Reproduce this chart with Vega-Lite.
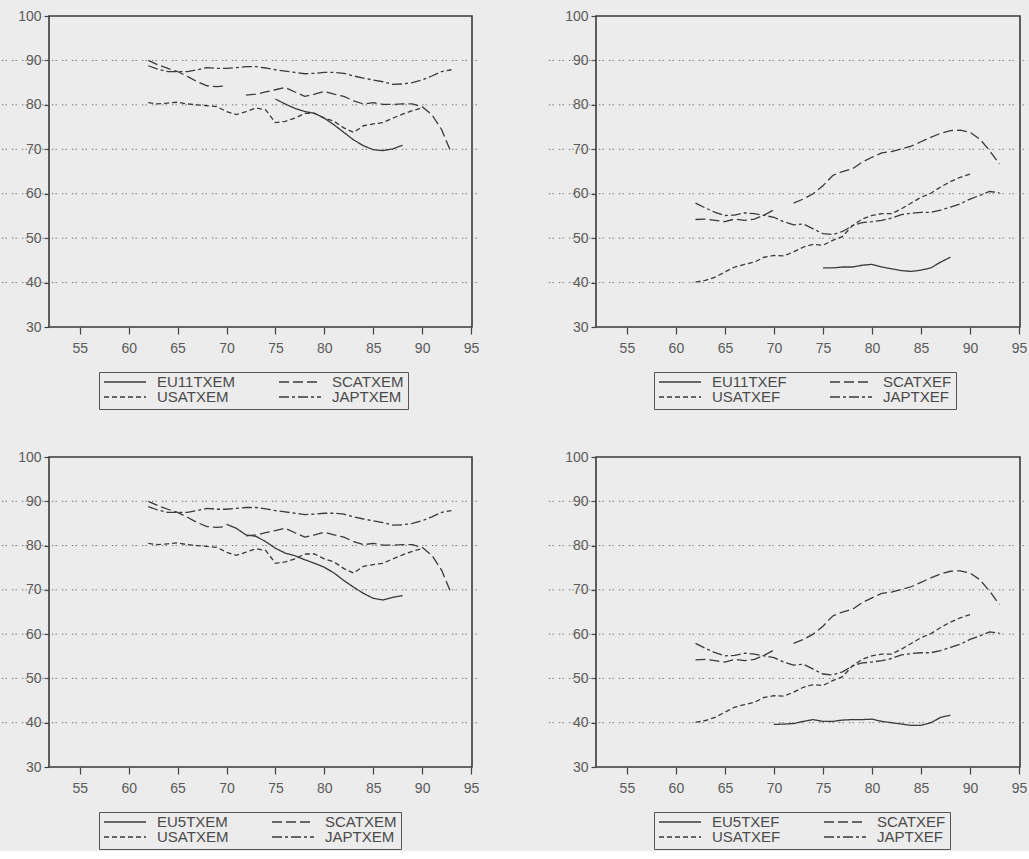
{
  "$schema": "https://vega.github.io/schema/vega-lite/v6.json",
  "background": "#ececec",
  "padding": {"left": 0, "top": 8, "right": 0, "bottom": 0},
  "datasets": {
    "grid": [{"v": 40}, {"v": 50}, {"v": 60}, {"v": 70}, {"v": 80}, {"v": 90}],
    "em": [
      {"s": "SCATXEM", "year": 62, "v": 90.0}, {"s": "SCATXEM", "year": 63, "v": 89.0}, {"s": "SCATXEM", "year": 64, "v": 88.2},
      {"s": "SCATXEM", "year": 65, "v": 87.5}, {"s": "SCATXEM", "year": 66, "v": 86.4}, {"s": "SCATXEM", "year": 67, "v": 85.2},
      {"s": "SCATXEM", "year": 68, "v": 84.3}, {"s": "SCATXEM", "year": 69, "v": 84.1}, {"s": "SCATXEM", "year": 70, "v": 84.3},
      {"s": "SCATXEM", "year": 71, "v": null}, {"s": "SCATXEM", "year": 72, "v": 82.2}, {"s": "SCATXEM", "year": 73, "v": 82.4},
      {"s": "SCATXEM", "year": 74, "v": 82.9}, {"s": "SCATXEM", "year": 75, "v": 83.4}, {"s": "SCATXEM", "year": 76, "v": 83.9},
      {"s": "SCATXEM", "year": 77, "v": 82.9}, {"s": "SCATXEM", "year": 78, "v": 81.9}, {"s": "SCATXEM", "year": 79, "v": 82.4},
      {"s": "SCATXEM", "year": 80, "v": 83.0}, {"s": "SCATXEM", "year": 81, "v": 82.4}, {"s": "SCATXEM", "year": 82, "v": 81.9},
      {"s": "SCATXEM", "year": 83, "v": 80.9}, {"s": "SCATXEM", "year": 84, "v": 80.2}, {"s": "SCATXEM", "year": 85, "v": 80.5},
      {"s": "SCATXEM", "year": 86, "v": 80.1}, {"s": "SCATXEM", "year": 87, "v": 80.1}, {"s": "SCATXEM", "year": 88, "v": 80.2},
      {"s": "SCATXEM", "year": 89, "v": 80.2}, {"s": "SCATXEM", "year": 90, "v": 79.6}, {"s": "SCATXEM", "year": 91, "v": 77.8},
      {"s": "SCATXEM", "year": 92, "v": 74.4}, {"s": "SCATXEM", "year": 93, "v": 69.1},
      {"s": "USATXEM", "year": 62, "v": 80.5}, {"s": "USATXEM", "year": 63, "v": 80.2}, {"s": "USATXEM", "year": 64, "v": 80.4},
      {"s": "USATXEM", "year": 65, "v": 80.6}, {"s": "USATXEM", "year": 66, "v": 80.2}, {"s": "USATXEM", "year": 67, "v": 80.0},
      {"s": "USATXEM", "year": 68, "v": 79.8}, {"s": "USATXEM", "year": 69, "v": 79.6}, {"s": "USATXEM", "year": 70, "v": 78.5},
      {"s": "USATXEM", "year": 71, "v": 77.8}, {"s": "USATXEM", "year": 72, "v": 78.5}, {"s": "USATXEM", "year": 73, "v": 79.3},
      {"s": "USATXEM", "year": 74, "v": 78.9}, {"s": "USATXEM", "year": 75, "v": 76.0}, {"s": "USATXEM", "year": 76, "v": 76.3},
      {"s": "USATXEM", "year": 77, "v": 77.0}, {"s": "USATXEM", "year": 78, "v": 78.1}, {"s": "USATXEM", "year": 79, "v": 78.1},
      {"s": "USATXEM", "year": 80, "v": 77.0}, {"s": "USATXEM", "year": 81, "v": 76.3}, {"s": "USATXEM", "year": 82, "v": 74.8},
      {"s": "USATXEM", "year": 83, "v": 73.8}, {"s": "USATXEM", "year": 84, "v": 75.3}, {"s": "USATXEM", "year": 85, "v": 75.7},
      {"s": "USATXEM", "year": 86, "v": 76.0}, {"s": "USATXEM", "year": 87, "v": 77.0}, {"s": "USATXEM", "year": 88, "v": 77.9},
      {"s": "USATXEM", "year": 89, "v": 78.7}, {"s": "USATXEM", "year": 90, "v": 79.3},
      {"s": "JAPTXEM", "year": 62, "v": 88.8}, {"s": "JAPTXEM", "year": 63, "v": 88.0}, {"s": "JAPTXEM", "year": 64, "v": 87.5},
      {"s": "JAPTXEM", "year": 65, "v": 87.5}, {"s": "JAPTXEM", "year": 66, "v": 87.5}, {"s": "JAPTXEM", "year": 67, "v": 87.9},
      {"s": "JAPTXEM", "year": 68, "v": 88.4}, {"s": "JAPTXEM", "year": 69, "v": 88.2}, {"s": "JAPTXEM", "year": 70, "v": 88.2},
      {"s": "JAPTXEM", "year": 71, "v": 88.4}, {"s": "JAPTXEM", "year": 72, "v": 88.6}, {"s": "JAPTXEM", "year": 73, "v": 88.6},
      {"s": "JAPTXEM", "year": 74, "v": 88.3}, {"s": "JAPTXEM", "year": 75, "v": 87.9}, {"s": "JAPTXEM", "year": 76, "v": 87.6},
      {"s": "JAPTXEM", "year": 77, "v": 87.3}, {"s": "JAPTXEM", "year": 78, "v": 87.0}, {"s": "JAPTXEM", "year": 79, "v": 87.1},
      {"s": "JAPTXEM", "year": 80, "v": 87.3}, {"s": "JAPTXEM", "year": 81, "v": 87.3}, {"s": "JAPTXEM", "year": 82, "v": 87.1},
      {"s": "JAPTXEM", "year": 83, "v": 86.5}, {"s": "JAPTXEM", "year": 84, "v": 86.0}, {"s": "JAPTXEM", "year": 85, "v": 85.6},
      {"s": "JAPTXEM", "year": 86, "v": 85.2}, {"s": "JAPTXEM", "year": 87, "v": 84.6}, {"s": "JAPTXEM", "year": 88, "v": 84.7},
      {"s": "JAPTXEM", "year": 89, "v": 85.0}, {"s": "JAPTXEM", "year": 90, "v": 85.6}, {"s": "JAPTXEM", "year": 91, "v": 86.5},
      {"s": "JAPTXEM", "year": 92, "v": 87.5}, {"s": "JAPTXEM", "year": 93, "v": 87.9}
    ],
    "eu11em": [
      {"s": "EU11TXEM", "year": 75, "v": 81.3}, {"s": "EU11TXEM", "year": 76, "v": 80.2}, {"s": "EU11TXEM", "year": 77, "v": 79.2},
      {"s": "EU11TXEM", "year": 78, "v": 78.5}, {"s": "EU11TXEM", "year": 79, "v": 78.1}, {"s": "EU11TXEM", "year": 80, "v": 77.0},
      {"s": "EU11TXEM", "year": 81, "v": 75.5}, {"s": "EU11TXEM", "year": 82, "v": 73.8}, {"s": "EU11TXEM", "year": 83, "v": 72.1},
      {"s": "EU11TXEM", "year": 84, "v": 70.8}, {"s": "EU11TXEM", "year": 85, "v": 69.9}, {"s": "EU11TXEM", "year": 86, "v": 69.7},
      {"s": "EU11TXEM", "year": 87, "v": 70.1}, {"s": "EU11TXEM", "year": 88, "v": 70.9}
    ],
    "eu5em": [
      {"s": "EU5TXEM", "year": 70, "v": 84.8}, {"s": "EU5TXEM", "year": 71, "v": 83.9}, {"s": "EU5TXEM", "year": 72, "v": 82.4},
      {"s": "EU5TXEM", "year": 73, "v": 82.1}, {"s": "EU5TXEM", "year": 74, "v": 80.9}, {"s": "EU5TXEM", "year": 75, "v": 79.4},
      {"s": "EU5TXEM", "year": 76, "v": 78.3}, {"s": "EU5TXEM", "year": 77, "v": 77.7}, {"s": "EU5TXEM", "year": 78, "v": 76.8},
      {"s": "EU5TXEM", "year": 79, "v": 76.0}, {"s": "EU5TXEM", "year": 80, "v": 75.1}, {"s": "EU5TXEM", "year": 81, "v": 73.8},
      {"s": "EU5TXEM", "year": 82, "v": 72.1}, {"s": "EU5TXEM", "year": 83, "v": 70.6}, {"s": "EU5TXEM", "year": 84, "v": 69.2},
      {"s": "EU5TXEM", "year": 85, "v": 68.1}, {"s": "EU5TXEM", "year": 86, "v": 67.7}, {"s": "EU5TXEM", "year": 87, "v": 68.3},
      {"s": "EU5TXEM", "year": 88, "v": 68.7}
    ],
    "ef": [
      {"s": "SCATXEF", "year": 62, "v": 54.2}, {"s": "SCATXEF", "year": 63, "v": 54.3}, {"s": "SCATXEF", "year": 64, "v": 54.0},
      {"s": "SCATXEF", "year": 65, "v": 53.7}, {"s": "SCATXEF", "year": 66, "v": 54.3}, {"s": "SCATXEF", "year": 67, "v": 54.0},
      {"s": "SCATXEF", "year": 68, "v": 54.3}, {"s": "SCATXEF", "year": 69, "v": 55.2}, {"s": "SCATXEF", "year": 70, "v": 56.4},
      {"s": "SCATXEF", "year": 71, "v": null}, {"s": "SCATXEF", "year": 72, "v": 57.9}, {"s": "SCATXEF", "year": 73, "v": 58.8},
      {"s": "SCATXEF", "year": 74, "v": 60.0}, {"s": "SCATXEF", "year": 75, "v": 61.8}, {"s": "SCATXEF", "year": 76, "v": 64.1},
      {"s": "SCATXEF", "year": 77, "v": 65.0}, {"s": "SCATXEF", "year": 78, "v": 65.6}, {"s": "SCATXEF", "year": 79, "v": 67.1},
      {"s": "SCATXEF", "year": 80, "v": 68.2}, {"s": "SCATXEF", "year": 81, "v": 69.2}, {"s": "SCATXEF", "year": 82, "v": 69.5},
      {"s": "SCATXEF", "year": 83, "v": 70.1}, {"s": "SCATXEF", "year": 84, "v": 70.7}, {"s": "SCATXEF", "year": 85, "v": 71.7},
      {"s": "SCATXEF", "year": 86, "v": 72.7}, {"s": "SCATXEF", "year": 87, "v": 73.6}, {"s": "SCATXEF", "year": 88, "v": 74.2},
      {"s": "SCATXEF", "year": 89, "v": 74.3}, {"s": "SCATXEF", "year": 90, "v": 73.8}, {"s": "SCATXEF", "year": 91, "v": 72.3},
      {"s": "SCATXEF", "year": 92, "v": 69.7}, {"s": "SCATXEF", "year": 93, "v": 66.7},
      {"s": "USATXEF", "year": 62, "v": 40.1}, {"s": "USATXEF", "year": 63, "v": 40.5}, {"s": "USATXEF", "year": 64, "v": 41.2},
      {"s": "USATXEF", "year": 65, "v": 42.4}, {"s": "USATXEF", "year": 66, "v": 43.5}, {"s": "USATXEF", "year": 67, "v": 44.1},
      {"s": "USATXEF", "year": 68, "v": 44.6}, {"s": "USATXEF", "year": 69, "v": 45.7}, {"s": "USATXEF", "year": 70, "v": 46.1},
      {"s": "USATXEF", "year": 71, "v": 46.0}, {"s": "USATXEF", "year": 72, "v": 46.9}, {"s": "USATXEF", "year": 73, "v": 48.0},
      {"s": "USATXEF", "year": 74, "v": 48.6}, {"s": "USATXEF", "year": 75, "v": 48.4}, {"s": "USATXEF", "year": 76, "v": 49.5},
      {"s": "USATXEF", "year": 77, "v": 50.4}, {"s": "USATXEF", "year": 78, "v": 52.8}, {"s": "USATXEF", "year": 79, "v": 54.3},
      {"s": "USATXEF", "year": 80, "v": 55.1}, {"s": "USATXEF", "year": 81, "v": 55.5}, {"s": "USATXEF", "year": 82, "v": 55.5},
      {"s": "USATXEF", "year": 83, "v": 56.6}, {"s": "USATXEF", "year": 84, "v": 57.9}, {"s": "USATXEF", "year": 85, "v": 59.2},
      {"s": "USATXEF", "year": 86, "v": 60.1}, {"s": "USATXEF", "year": 87, "v": 61.5}, {"s": "USATXEF", "year": 88, "v": 62.7},
      {"s": "USATXEF", "year": 89, "v": 63.7}, {"s": "USATXEF", "year": 90, "v": 64.4},
      {"s": "JAPTXEF", "year": 62, "v": 57.9}, {"s": "JAPTXEF", "year": 63, "v": 56.8}, {"s": "JAPTXEF", "year": 64, "v": 55.8},
      {"s": "JAPTXEF", "year": 65, "v": 55.1}, {"s": "JAPTXEF", "year": 66, "v": 55.2}, {"s": "JAPTXEF", "year": 67, "v": 55.7},
      {"s": "JAPTXEF", "year": 68, "v": 55.5}, {"s": "JAPTXEF", "year": 69, "v": 55.1}, {"s": "JAPTXEF", "year": 70, "v": 54.7},
      {"s": "JAPTXEF", "year": 71, "v": 53.7}, {"s": "JAPTXEF", "year": 72, "v": 53.0}, {"s": "JAPTXEF", "year": 73, "v": 53.2},
      {"s": "JAPTXEF", "year": 74, "v": 52.1}, {"s": "JAPTXEF", "year": 75, "v": 51.0}, {"s": "JAPTXEF", "year": 76, "v": 50.8},
      {"s": "JAPTXEF", "year": 77, "v": 51.5}, {"s": "JAPTXEF", "year": 78, "v": 52.8}, {"s": "JAPTXEF", "year": 79, "v": 53.5},
      {"s": "JAPTXEF", "year": 80, "v": 53.7}, {"s": "JAPTXEF", "year": 81, "v": 54.0}, {"s": "JAPTXEF", "year": 82, "v": 54.5},
      {"s": "JAPTXEF", "year": 83, "v": 55.3}, {"s": "JAPTXEF", "year": 84, "v": 55.6}, {"s": "JAPTXEF", "year": 85, "v": 55.8},
      {"s": "JAPTXEF", "year": 86, "v": 55.8}, {"s": "JAPTXEF", "year": 87, "v": 56.3}, {"s": "JAPTXEF", "year": 88, "v": 57.0},
      {"s": "JAPTXEF", "year": 89, "v": 57.7}, {"s": "JAPTXEF", "year": 90, "v": 58.8}, {"s": "JAPTXEF", "year": 91, "v": 59.6},
      {"s": "JAPTXEF", "year": 92, "v": 60.5}, {"s": "JAPTXEF", "year": 93, "v": 60.2}
    ],
    "eu11ef": [
      {"s": "EU11TXEF", "year": 75, "v": 43.3}, {"s": "EU11TXEF", "year": 76, "v": 43.3}, {"s": "EU11TXEF", "year": 77, "v": 43.5},
      {"s": "EU11TXEF", "year": 78, "v": 43.5}, {"s": "EU11TXEF", "year": 79, "v": 43.9}, {"s": "EU11TXEF", "year": 80, "v": 44.1},
      {"s": "EU11TXEF", "year": 81, "v": 43.5}, {"s": "EU11TXEF", "year": 82, "v": 43.1}, {"s": "EU11TXEF", "year": 83, "v": 42.7},
      {"s": "EU11TXEF", "year": 84, "v": 42.5}, {"s": "EU11TXEF", "year": 85, "v": 42.8}, {"s": "EU11TXEF", "year": 86, "v": 43.3},
      {"s": "EU11TXEF", "year": 87, "v": 44.6}, {"s": "EU11TXEF", "year": 88, "v": 45.7}
    ],
    "eu5ef": [
      {"s": "EU5TXEF", "year": 70, "v": 39.6}, {"s": "EU5TXEF", "year": 71, "v": 39.7}, {"s": "EU5TXEF", "year": 72, "v": 39.8},
      {"s": "EU5TXEF", "year": 73, "v": 40.3}, {"s": "EU5TXEF", "year": 74, "v": 40.7}, {"s": "EU5TXEF", "year": 75, "v": 40.3},
      {"s": "EU5TXEF", "year": 76, "v": 40.3}, {"s": "EU5TXEF", "year": 77, "v": 40.6}, {"s": "EU5TXEF", "year": 78, "v": 40.7},
      {"s": "EU5TXEF", "year": 79, "v": 40.7}, {"s": "EU5TXEF", "year": 80, "v": 40.8}, {"s": "EU5TXEF", "year": 81, "v": 40.3},
      {"s": "EU5TXEF", "year": 82, "v": 40.0}, {"s": "EU5TXEF", "year": 83, "v": 39.7}, {"s": "EU5TXEF", "year": 84, "v": 39.4},
      {"s": "EU5TXEF", "year": 85, "v": 39.4}, {"s": "EU5TXEF", "year": 86, "v": 40.0}, {"s": "EU5TXEF", "year": 87, "v": 41.2},
      {"s": "EU5TXEF", "year": 88, "v": 41.7}
    ]
  },
  "config": {
    "view": {"stroke": "#3a3a3a", "strokeWidth": 1.6},
    "font": "Liberation Sans",
    "axis": {
      "domain": false,
      "grid": false,
      "title": null,
      "tickColor": "#444",
      "tickWidth": 1.2,
      "labelColor": "#5a5a5a",
      "labelFont": "Liberation Sans",
      "labelFontSize": 14
    },
    "axisX": {
      "values": [52,53,54,55,56,57,58,59,60,61,62,63,64,65,66,67,68,69,70,71,72,73,74,75,76,77,78,79,80,81,82,83,84,85,86,87,88,89,90,91,92,93,94,95],
      "labelExpr": "datum.value % 5 === 0 ? datum.label : ''",
      "tickSize": {"condition": {"test": "datum.value % 5 === 0", "value": 7}, "value": 4},
      "labelPadding": 7,
      "labelFlush": false,
      "labelOverlap": false
    },
    "axisY": {
      "values": [30, 40, 50, 60, 70, 80, 90, 100],
      "tickSize": 5,
      "labelPadding": 3
    },
    "legend": {
      "orient": "none",
      "title": null,
      "columns": 2,
      "symbolType": "stroke",
      "symbolSize": 1764,
      "symbolStrokeWidth": 1.3,
      "symbolStrokeColor": "#3a3a3a",
      "labelFont": "Liberation Sans",
      "labelFontSize": 15,
      "labelColor": "#4a4a4a",
      "labelOffset": 10,
      "clipHeight": 12,
      "strokeColor": "#555",
      "padding": 4,
      "rowPadding": 0,
      "columnPadding": 42
    },
    "line": {"stroke": "#3a3a3a", "strokeWidth": 1.3}
  },
  "spacing": 38,
  "resolve": {"scale": {"strokeDash": "independent"}, "legend": {"strokeDash": "independent"}},
  "vconcat": [
    {
      "spacing": 63,
      "resolve": {"scale": {"strokeDash": "independent"}, "legend": {"strokeDash": "independent"}},
      "hconcat": [
        {
          "width": 423, "height": 311,
          "layer": [
            {
              "data": {"name": "grid"},
              "mark": {"type": "rule", "clip": false, "color": "#7a7a7a", "strokeWidth": 1, "strokeDash": [1.5, 2, 1.5, 5]},
              "encoding": {
                "y": {"field": "v", "type": "quantitative", "scale": {"domain": [30, 100], "nice": false, "zero": false}},
                "x": {"datum": 47.04, "type": "quantitative", "scale": {"domain": [51.85, 95.1], "nice": false, "zero": false}},
                "x2": {"datum": 96.1}
              }
            },
            {
              "data": {"name": "em"},
              "mark": {"type": "line", "invalid": "break-paths-show-domains"},
              "encoding": {
                "x": {"field": "year", "type": "quantitative"},
                "y": {"field": "v", "type": "quantitative"},
                "strokeDash": {"field": "s", "type": "nominal",
                               "scale": {"domain": ["EU11TXEM", "USATXEM", "SCATXEM", "JAPTXEM"], "range": [[1, 0], [5, 3], [10, 4], [10, 3, 3, 3]]},
                               "legend": {"legendX": 50, "legendY": 356}}
              }
            },
            {
              "data": {"name": "eu11em"},
              "mark": {"type": "line"},
              "encoding": {
                "x": {"field": "year", "type": "quantitative"},
                "y": {"field": "v", "type": "quantitative"},
                "strokeDash": {"field": "s", "type": "nominal"}
              }
            }
          ]
        },
        {
          "width": 424, "height": 311,
          "layer": [
            {
              "data": {"name": "grid"},
              "mark": {"type": "rule", "clip": false, "color": "#7a7a7a", "strokeWidth": 1, "strokeDash": [1.5, 2, 1.5, 5]},
              "encoding": {
                "y": {"field": "v", "type": "quantitative", "scale": {"domain": [30, 100], "nice": false, "zero": false}},
                "x": {"datum": 47.04, "type": "quantitative", "scale": {"domain": [51.85, 95.1], "nice": false, "zero": false}},
                "x2": {"datum": 96.1}
              }
            },
            {
              "data": {"name": "ef"},
              "mark": {"type": "line", "invalid": "break-paths-show-domains"},
              "encoding": {
                "x": {"field": "year", "type": "quantitative"},
                "y": {"field": "v", "type": "quantitative"},
                "strokeDash": {"field": "s", "type": "nominal",
                               "scale": {"domain": ["EU11TXEF", "USATXEF", "SCATXEF", "JAPTXEF"], "range": [[1, 0], [5, 3], [10, 4], [10, 3, 3, 3]]},
                               "legend": {"legendX": 58, "legendY": 356}}
              }
            },
            {
              "data": {"name": "eu11ef"},
              "mark": {"type": "line"},
              "encoding": {
                "x": {"field": "year", "type": "quantitative"},
                "y": {"field": "v", "type": "quantitative"},
                "strokeDash": {"field": "s", "type": "nominal"}
              }
            }
          ]
        }
      ]
    },
    {
      "spacing": 63,
      "resolve": {"scale": {"strokeDash": "independent"}, "legend": {"strokeDash": "independent"}},
      "hconcat": [
        {
          "width": 423, "height": 310,
          "layer": [
            {
              "data": {"name": "grid"},
              "mark": {"type": "rule", "clip": false, "color": "#7a7a7a", "strokeWidth": 1, "strokeDash": [1.5, 2, 1.5, 5]},
              "encoding": {
                "y": {"field": "v", "type": "quantitative", "scale": {"domain": [30, 100], "nice": false, "zero": false}},
                "x": {"datum": 47.04, "type": "quantitative", "scale": {"domain": [51.85, 95.1], "nice": false, "zero": false}},
                "x2": {"datum": 96.1}
              }
            },
            {
              "data": {"name": "em"},
              "mark": {"type": "line", "invalid": "break-paths-show-domains"},
              "encoding": {
                "x": {"field": "year", "type": "quantitative"},
                "y": {"field": "v", "type": "quantitative"},
                "strokeDash": {"field": "s", "type": "nominal",
                               "scale": {"domain": ["EU5TXEM", "USATXEM", "SCATXEM", "JAPTXEM"], "range": [[1, 0], [5, 3], [10, 4], [10, 3, 3, 3]]},
                               "legend": {"legendX": 50, "legendY": 355}}
              }
            },
            {
              "data": {"name": "eu5em"},
              "mark": {"type": "line"},
              "encoding": {
                "x": {"field": "year", "type": "quantitative"},
                "y": {"field": "v", "type": "quantitative"},
                "strokeDash": {"field": "s", "type": "nominal"}
              }
            }
          ]
        },
        {
          "width": 424, "height": 310,
          "layer": [
            {
              "data": {"name": "grid"},
              "mark": {"type": "rule", "clip": false, "color": "#7a7a7a", "strokeWidth": 1, "strokeDash": [1.5, 2, 1.5, 5]},
              "encoding": {
                "y": {"field": "v", "type": "quantitative", "scale": {"domain": [30, 100], "nice": false, "zero": false}},
                "x": {"datum": 47.04, "type": "quantitative", "scale": {"domain": [51.85, 95.1], "nice": false, "zero": false}},
                "x2": {"datum": 96.1}
              }
            },
            {
              "data": {"name": "ef"},
              "mark": {"type": "line", "invalid": "break-paths-show-domains"},
              "encoding": {
                "x": {"field": "year", "type": "quantitative"},
                "y": {"field": "v", "type": "quantitative"},
                "strokeDash": {"field": "s", "type": "nominal",
                               "scale": {"domain": ["EU5TXEF", "USATXEF", "SCATXEF", "JAPTXEF"], "range": [[1, 0], [5, 3], [10, 4], [10, 3, 3, 3]]},
                               "legend": {"legendX": 58, "legendY": 355}}
              }
            },
            {
              "data": {"name": "eu5ef"},
              "mark": {"type": "line"},
              "encoding": {
                "x": {"field": "year", "type": "quantitative"},
                "y": {"field": "v", "type": "quantitative"},
                "strokeDash": {"field": "s", "type": "nominal"}
              }
            }
          ]
        }
      ]
    }
  ]
}
